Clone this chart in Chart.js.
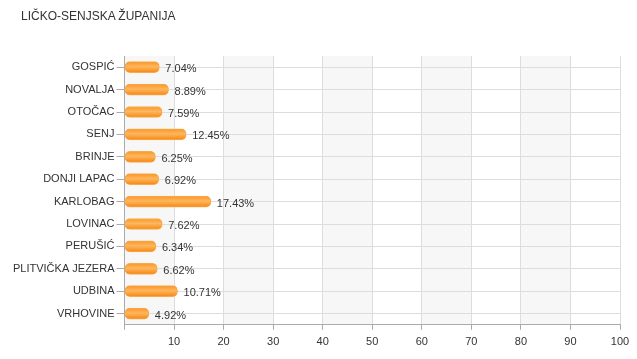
<!DOCTYPE html>
<html><head><meta charset="utf-8">
<script src="https://cdn.jsdelivr.net/npm/chart.js@4"></script>
<style>
html,body{margin:0;padding:0;background:#fff;}
#wrap{position:relative;width:637px;height:359px;}
#title{position:absolute;left:21px;top:9px;font:12px "Liberation Sans",Arial,sans-serif;color:#333;}
</style></head>
<body>
<div id="wrap"><div id="title">LIČKO-SENJSKA ŽUPANIJA</div><canvas id="c" width="637" height="359"></canvas></div>
<script>
const categories = ["GOSPIĆ","NOVALJA","OTOČAC","SENJ","BRINJE","DONJI LAPAC","KARLOBAG","LOVINAC","PERUŠIĆ","PLITVIČKA JEZERA","UDBINA","VRHOVINE"];
const values = [7.04,8.89,7.59,12.45,6.25,6.92,17.43,7.62,6.34,6.62,10.71,4.92];
const xTicks = [0,10,20,30,40,50,60,70,80,90,100];

const bands = {
  id:'bands',
  beforeDraw(chart){
    const {ctx, chartArea:a, scales:{x}} = chart;
    ctx.save();
    ctx.fillStyle = '#f7f7f7';
    for(let i=0;i<xTicks.length-1;i+=2){
      const x0 = x.getPixelForValue(xTicks[i]), x1 = x.getPixelForValue(xTicks[i+1]);
      ctx.fillRect(x0, a.top, x1-x0, a.bottom-a.top);
    }
    ctx.restore();
  }
};
const valueLabels = {
  id:'valueLabels',
  afterDatasetsDraw(chart){
    const {ctx} = chart;
    const meta = chart.getDatasetMeta(0);
    ctx.save();
    ctx.font = '11px "Liberation Sans", Arial, sans-serif';
    ctx.fillStyle = '#333';
    ctx.textBaseline = 'middle';
    meta.data.forEach((bar,i)=>{
      ctx.fillText(values[i].toFixed(2)+'%', bar.x+6, bar.y+2);
    });
    ctx.restore();
  }
};

new Chart(document.getElementById('c'), {
  type:'bar',
  data:{labels:categories, datasets:[{
    data:values,
    backgroundColor(ctx){
      const chart = ctx.chart;
      if(!chart.chartArea || !chart.scales.y) return '#ff9a2e';
      const yc = chart.scales.y.getPixelForValue(ctx.dataIndex);
      const g = chart.ctx.createLinearGradient(0, yc-5, 0, yc+5);
      g.addColorStop(0,'#f79a2e');
      g.addColorStop(0.45,'#ffb65c');
      g.addColorStop(1,'#f58a1a');
      return g;
    },
    borderColor:'#f9a94a',
    borderWidth:1,
    borderSkipped:false,
    borderRadius:5,
    barThickness:11
  }]},
  options:{
    indexAxis:'y',
    responsive:false,
    animation:false,
    layout:{padding:{top:56,right:17,left:11,bottom:4}},
    plugins:{legend:{display:false},tooltip:{enabled:false}},
    scales:{
      x:{min:0,max:100,
        grid:{color:'#dddddd',drawTicks:true,tickLength:5,tickColor:'#aaaaaa'},
        border:{color:'#aaaaaa'},
        afterBuildTicks(s){ s.ticks = xTicks.map(v=>({value:v})); },
        ticks:{color:'#333',font:{family:'"Liberation Sans", Arial, sans-serif',size:11},padding:6,
          callback:v=> v===0?'':v}
      },
      y:{
        grid:{color:'#dddddd',offset:false,tickLength:8,tickColor:'#aaaaaa'},
        border:{color:'#aaaaaa'},
        ticks:{color:'#333',font:{family:'"Liberation Sans", Arial, sans-serif',size:11},padding:2}
      }
    }
  },
  plugins:[bands,valueLabels]
});
</script>
</body></html>
